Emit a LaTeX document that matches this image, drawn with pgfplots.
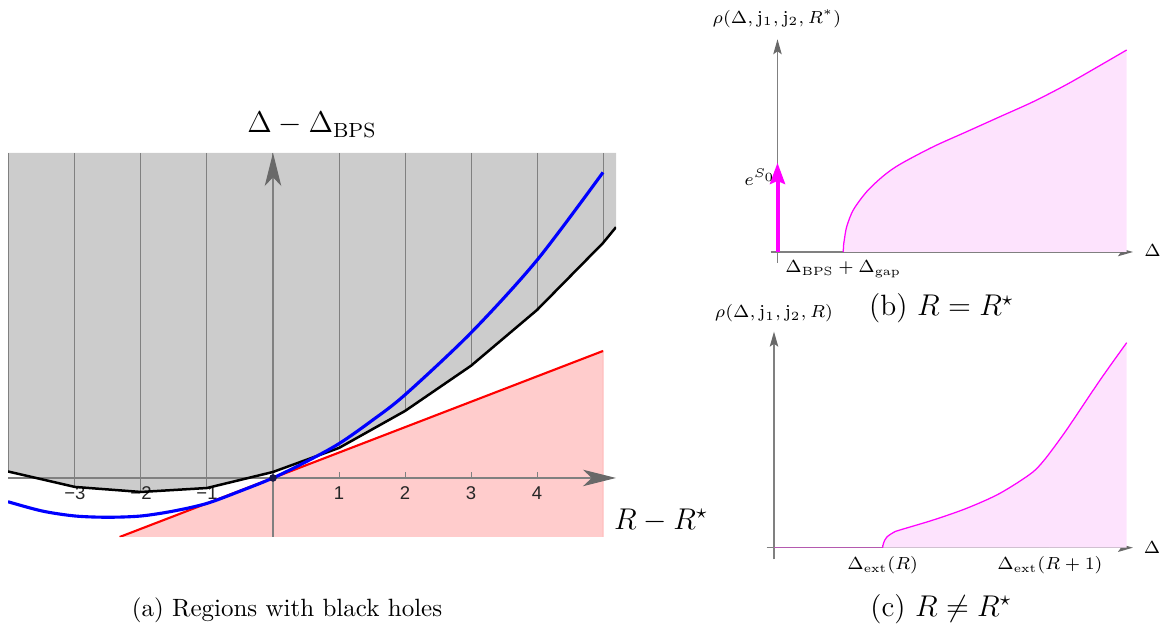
\documentclass[border=0pt]{standalone}
\usepackage{fontspec}
\usepackage{pgfplots}
\pgfplotsset{compat=1.18}
\usetikzlibrary{arrows.meta}
\newfontfamily\ticksans{Liberation Sans}

\definecolor{shade}{RGB}{204,204,204}
\definecolor{pinkfill}{RGB}{255,204,204}
\definecolor{rhofill}{RGB}{253,227,253}
\definecolor{mag}{RGB}{255,0,255}
\definecolor{axgray}{RGB}{105,105,105}
\definecolor{flatline}{RGB}{180,90,175}
\definecolor{dotcol}{RGB}{25,25,70}

\begin{document}
\begin{tikzpicture}

% ---------------- (a) regions with black holes ----------------
\begin{axis}[
    at={(3.2pt,35.6pt)}, anchor=south west,
    scale only axis, width=243.2pt, height=153.6pt,
    xmin=-4.015, xmax=5.197, ymin=-0.894, ymax=4.924,
    set layers,
    axis lines=middle,
    axis line style={draw=black!50, line width=0.45pt},
    every inner x axis line/.append style={-{Stealth[length=13.2pt,width=6.6pt,inset=3.5pt,color=axgray]}},
    every inner y axis line/.append style={-{Stealth[length=13.2pt,width=6.6pt,inset=3.5pt,color=axgray]}},
    xtick={-3,-2,-1,1,2,3,4},
    xticklabels={−3,−2,−1,1,2,3,4},
    ytick=\empty,
    tick align=inside,
    major tick length=2.4pt,
    tick style={draw=black!50, line width=0.4pt},
    xticklabel style={font=\ticksans\fontsize{7.4}{9}\selectfont, text=black!85},
    xlabel={$R-R^\star$},
    ylabel={$\Delta-\Delta_{\mathrm{BPS}}$},
    every axis x label/.style={at={(rel axis cs:1.074,0.042)}, anchor=center, font=\fontsize{12}{14}\selectfont},
    every axis y label/.style={at={(rel axis cs:0.5,1.073)}, anchor=center, font=\fontsize{11.7}{14}\selectfont},
    meshline/.style={on layer=axis background, draw=black!50, line width=0.4pt},
]
% shaded region above the black boundary
\addplot[on layer=axis background, fill=shade, draw=none] coordinates {
(-4.015,0.098) (-4,0.095) (-3,-0.136) (-2,-0.212) (-1,-0.152) (0,0.091)
(1,0.455) (2,1.015) (3,1.70) (4,2.545) (5,3.56) (5.197,3.80)
(5.197,4.924) (-4.015,4.924)
};
% red region below the line
\addplot[on layer=axis background, fill=pinkfill, draw=red!25, line width=0.5pt] coordinates {
(-2.323,-0.894) (5,1.924) (5,-0.894)
};
% mesh lines inside the shaded region
\addplot[meshline] coordinates {(-4,0.095) (-4,4.924)};
\addplot[meshline] coordinates {(-3,-0.136) (-3,4.924)};
\addplot[meshline] coordinates {(-2,-0.212) (-2,4.924)};
\addplot[meshline] coordinates {(-1,-0.152) (-1,4.924)};
\addplot[meshline] coordinates {(0,0.091) (0,4.924)};
\addplot[meshline] coordinates {(1,0.455) (1,4.924)};
\addplot[meshline] coordinates {(2,1.015) (2,4.924)};
\addplot[meshline] coordinates {(3,1.70) (3,4.924)};
\addplot[meshline] coordinates {(4,2.545) (4,4.924)};
\addplot[meshline] coordinates {(5,3.56) (5,4.924)};
\addplot[red, line width=0.85pt] coordinates {(-2.323,-0.894) (5,1.924)};
\addplot[black, line width=1pt] coordinates {
(-4.015,0.098) (-4,0.095) (-3,-0.136) (-2,-0.212) (-1,-0.152) (0,0.091)
(1,0.455) (2,1.015) (3,1.70) (4,2.545) (5,3.56) (5.197,3.80)
};
\addplot[only marks, mark=*, mark size=1.3pt, color=dotcol] coordinates {(0,0)};
\addplot[blue, line width=1.25pt, smooth] coordinates {
(-4.015,-0.36) (-3.5,-0.50) (-3,-0.576) (-2.5,-0.595) (-2,-0.576) (-1.5,-0.50)
(-1,-0.385) (-0.5,-0.20) (0,0) (0.5,0.245) (1,0.52) (1.5,0.87) (2,1.26)
(3,2.2) (4,3.3) (5,4.63)
};
\end{axis}

% ---------------- (b) R = R* ----------------
\begin{axis}[
    at={(308.28pt,145.2pt)}, anchor=south west,
    scale only axis, width=144.92pt, height=89.48pt,
    xmin=-0.68, xmax=35.55, ymin=-1.1, ymax=21.27,
    axis lines=middle, clip=false,
    axis line style={draw=black!50, line width=0.45pt},
    every inner x axis line/.append style={-{Stealth[length=6pt,width=3.4pt,inset=1.2pt,color=axgray]}},
    every inner y axis line/.append style={-{Stealth[length=6pt,width=3.4pt,inset=1.2pt,color=axgray]}},
    xtick={6.58},
    xticklabels={$\Delta_{\mathrm{BPS}}+\Delta_{\mathrm{gap}}$},
    ytick=\empty,
    major tick length=0pt,
    xticklabel style={font=\fontsize{6.8}{8}\selectfont},
    xlabel={$\Delta$},
    ylabel={$\rho(\Delta,\mathrm{j}_1,\mathrm{j}_2,R^*)$},
    every axis x label/.style={at={(rel axis cs:1.054,0.054)}, anchor=center, font=\fontsize{7.3}{9}\selectfont},
    every axis y label/.style={at={(rel axis cs:0.0174,1.091)}, anchor=center, font=\fontsize{7.3}{9}\selectfont},
]
\addplot[fill=rhofill, draw=none, smooth] coordinates {
(6.58,0) (6.6,0.6) (6.68,1.2) (6.92,2.53) (7.58,4.2) (8.92,6.03) (10.58,7.6)
(12.25,8.77) (15.58,10.53) (18.92,12.03) (22.25,13.53) (25.58,15.03)
(28.92,16.75) (32.25,18.65) (34.92,20.2)
} -- (axis cs:34.92,0) -- cycle;
\addplot[mag, line width=0.5pt, smooth] coordinates {
(6.58,0) (6.6,0.6) (6.68,1.2) (6.92,2.53) (7.58,4.2) (8.92,6.03) (10.58,7.6)
(12.25,8.77) (15.58,10.53) (18.92,12.03) (22.25,13.53) (25.58,15.03)
(28.92,16.75) (32.25,18.65) (34.92,20.2)
};
\addplot[mag, line width=1.6pt, -{Stealth[length=8.5pt,width=6pt,inset=1.2pt]}] coordinates {(0,0) (0,8.93)};
\node[font=\fontsize{7.3}{9}\selectfont] at (axis cs:-1.75,7.5) {$e^{S_0}$};
\end{axis}

% ---------------- (c) R != R* ----------------
\begin{axis}[
    at={(306.68pt,26.68pt)}, anchor=south west,
    scale only axis, width=146.52pt, height=91.04pt,
    xmin=-0.73, xmax=35.9, ymin=-1.16, ymax=21.6,
    axis lines=middle, clip=false,
    axis line style={draw=black!50, line width=0.45pt},
    every inner x axis line/.append style={-{Stealth[length=6pt,width=3.4pt,inset=1.2pt,color=axgray]}},
    every inner y axis line/.append style={-{Stealth[length=6pt,width=3.4pt,inset=1.2pt,color=axgray]}},
    xtick={10.87,27.6},
    xticklabels={$\Delta_{\mathrm{ext}}(R)$,$\Delta_{\mathrm{ext}}(R+1)$},
    ytick=\empty,
    tick align=inside,
    major tick length=1.2pt,
    tick style={draw=black!50, line width=0.4pt},
    xticklabel style={font=\fontsize{6.8}{8}\selectfont},
    xlabel={$\Delta$},
    ylabel={$\rho(\Delta,\mathrm{j}_1,\mathrm{j}_2,R)$},
    every axis x label/.style={at={(rel axis cs:1.052,0.05)}, anchor=center, font=\fontsize{7.3}{9}\selectfont},
    every axis y label/.style={at={(rel axis cs:0.02,1.08)}, anchor=center, font=\fontsize{7.3}{9}\selectfont},
]
\addplot[fill=rhofill, draw=none, smooth] coordinates {
(10.87,0) (10.95,0.45) (11.27,1.05) (12.0,1.55) (12.6,1.77) (15.93,2.77) (19.27,3.94)
(22.6,5.44) (25.93,7.6) (27.6,9.5)
} -- (axis cs:27.6,0) -- cycle;
\addplot[fill=rhofill, draw=none, smooth] coordinates {
(27.6,9.5) (29.27,11.8) (32.6,16.75) (35.27,20.5)
} -- (axis cs:35.27,0) -- (axis cs:27.6,0) -- cycle;
\addplot[flatline, line width=0.6pt] coordinates {(0,0) (10.87,0)};
\addplot[mag, line width=0.5pt, smooth] coordinates {
(10.87,0) (10.95,0.45) (11.27,1.05) (12.0,1.55) (12.6,1.77) (15.93,2.77) (19.27,3.94)
(22.6,5.44) (25.93,7.6) (27.6,9.5)
};
\addplot[mag, line width=0.5pt, smooth] coordinates {
(27.6,9.5) (29.27,11.8) (32.6,16.75) (35.27,20.5)
};
\end{axis}

% ---------------- captions ----------------
\node[anchor=base, font=\fontsize{10}{12}\selectfont] at (114.8pt,3.6pt) {(a) Regions with black holes};
\node[anchor=base, font=\fontsize{11.75}{14}\selectfont] at (376.6pt,124pt) {(b) $R=R^\star$};
\node[anchor=base, font=\fontsize{11.75}{14}\selectfont] at (376.4pt,3.7pt) {(c) $R\neq R^\star$};

\pgfresetboundingbox
\path[use as bounding box] (0,0) rectangle (464.4pt,250.4pt);
\end{tikzpicture}
\end{document}
